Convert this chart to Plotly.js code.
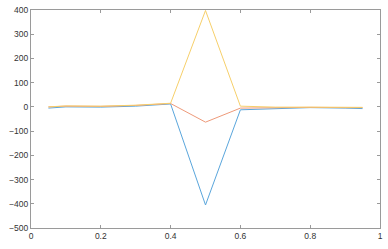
<!DOCTYPE html>
<html>
<head>
<meta charset="utf-8">
<script src="https://cdn.plot.ly/plotly-3.0.1.min.js"></script>
<style>
html, body { margin: 0; padding: 0; background: white; }
#chart { width: 388px; height: 249px; }
</style>
</head>
<body>
<div id="chart"></div>
<script>
var xs = [0.05, 0.1, 0.2, 0.3, 0.4, 0.5, 0.6, 0.7, 0.8, 0.9, 0.95];
var blue = [-5, 0, -1, 3, 12, -405, -12, -7, -3, -5, -7];
var orange = [0, 3, 2, 6, 14, -63, -5, -3, -2, -3, -3];
var yellow = [0, 4, 3, 7, 15, 398, 3, -1, -1, -2, -2];

var xTicks = [0, 0.2, 0.4, 0.6, 0.8, 1];
var xTickText = ['0', '0.2', '0.4', '0.6', '0.8', '1'];
var yTicks = [-500, -400, -300, -200, -100, 0, 100, 200, 300, 400];

function line(y, color) {
    return {x: xs, y: y, mode: 'lines', line: {color: color, width: 1}, hoverinfo: 'none'};
}

var data = [
    line(blue, '#5aa6dc'),
    line(orange, '#ee9a7a'),
    line(yellow, '#f6cf6a')
];

var axisStyle = {
    showgrid: false,
    zeroline: false,
    showline: true,
    linecolor: '#9a9a9a',
    linewidth: 1,
    mirror: 'ticks',
    ticks: 'inside',
    ticklen: 3,
    tickcolor: '#9a9a9a',
    tickfont: {family: 'Liberation Sans, Arial', size: 8.5, color: '#333'}
};

var layout = {
    width: 388,
    height: 249,
    margin: {l: 31, r: 8, t: 10, b: 21},
    paper_bgcolor: 'white',
    plot_bgcolor: 'white',
    showlegend: false,
    xaxis: Object.assign({}, axisStyle, {range: [0, 1], tickvals: xTicks, ticktext: xTickText}),
    yaxis: Object.assign({}, axisStyle, {range: [-500, 400], tickvals: yTicks})
};

Plotly.newPlot('chart', data, layout, {staticPlot: true});
</script>
</body>
</html>
